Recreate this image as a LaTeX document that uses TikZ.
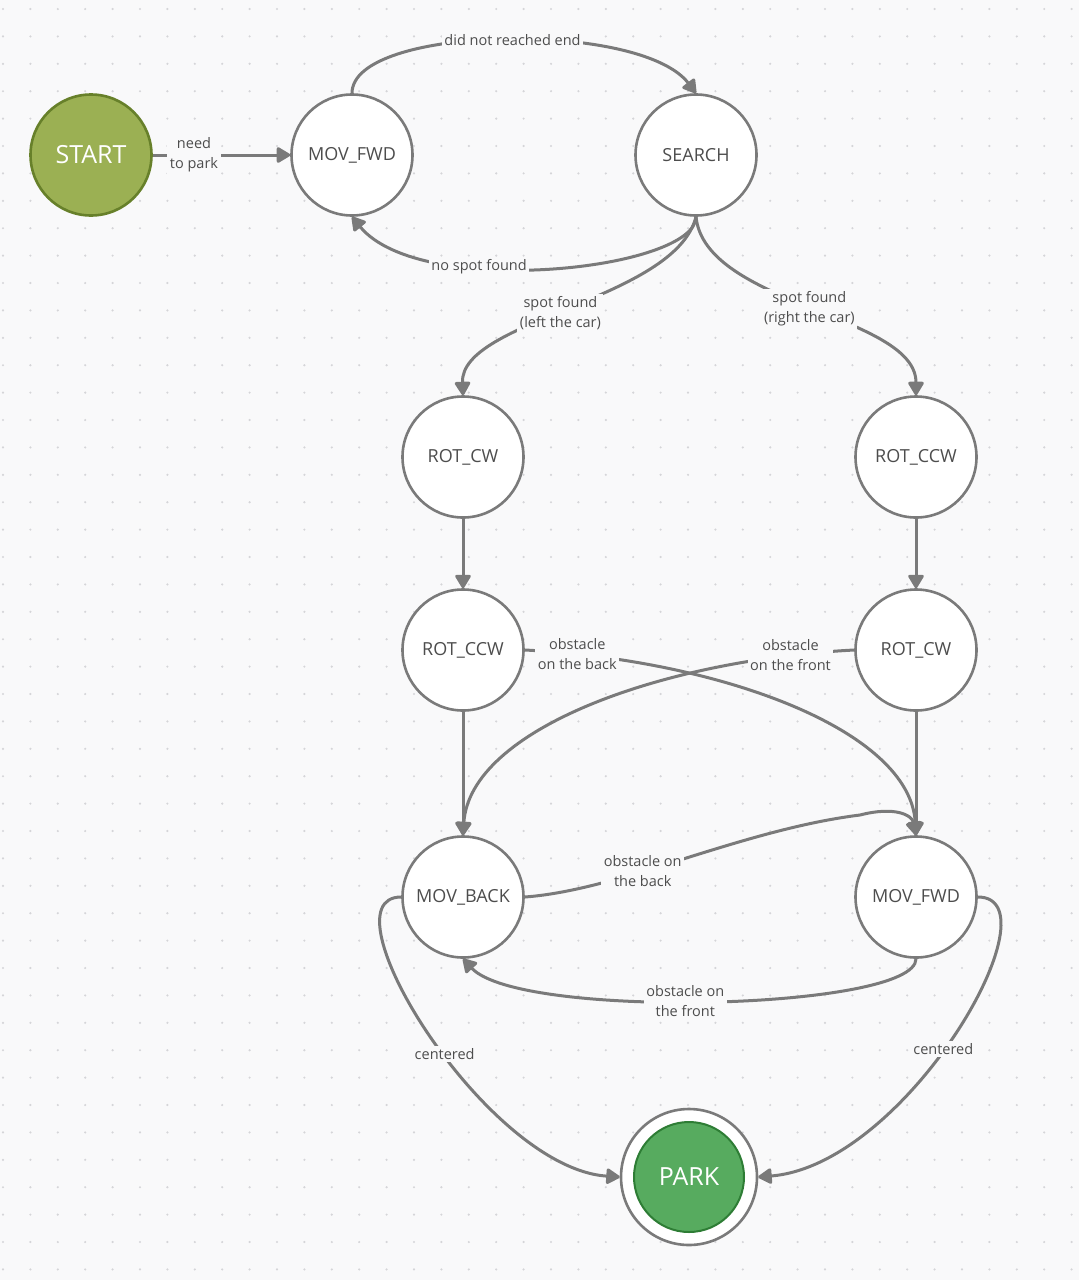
\documentclass[tikz,border=0pt]{standalone}
\usepackage{fontspec}
\setmainfont{Open Sans}
\usetikzlibrary{arrows.meta}

\definecolor{bgGray}{HTML}{F9F9FA}
\definecolor{dotGray}{HTML}{D5D5D8}
\definecolor{lineGray}{HTML}{7A7A7A}
\definecolor{textGray}{HTML}{4D4D4D}
\definecolor{startGreen}{HTML}{9BB053}
\definecolor{startEdge}{HTML}{67802A}
\definecolor{parkGreen}{HTML}{57AB5F}
\definecolor{parkEdge}{HTML}{2E7D35}

\tikzset{
  stateNode/.style = {circle, draw=lineGray, line width=2.6pt, fill=white,
    minimum size=121pt, inner sep=0pt, text=textGray,
    font=\fontsize{18}{20}\selectfont},
  startNode/.style = {stateNode, draw=startEdge, fill=startGreen, text=white,
    font=\fontsize{25}{28}\selectfont},
  ringNode/.style = {circle, draw=lineGray, line width=2.6pt, fill=white,
    minimum size=136pt, inner sep=0pt},
  parkNode/.style = {circle, draw=parkEdge, line width=2pt, fill=parkGreen,
    minimum size=110pt, inner sep=0pt, text=white,
    font=\fontsize{25}{28}\selectfont},
  trans/.style = {draw=lineGray, line width=3pt,
    -{Triangle[length=15pt, width=17pt, round]}},
  lbl/.style = {fill=bgGray, inner sep=2.5pt, align=center, text=textGray,
    font=\fontsize{14.5}{20}\selectfont}
}

\begin{document}
\begin{tikzpicture}[x=1pt, y=-1pt]
    % page and dotted grid
    \useasboundingbox (0,0) rectangle (1079,1280);
    \fill[bgGray] (0,0) rectangle (1079,1280);
    \foreach \i in {0,...,39}
      \foreach \j in {0,...,46}
        \fill[dotGray] (3+27.4*\i, 9+27.4*\j) circle (1.2pt);

    % states
    \node[startNode] (start) at (91,155) {START};
    \node[stateNode] (movF) at (352,155) {MOV\_FWD};
    \node[stateNode] (search) at (696,155) {SEARCH};
    \node[stateNode] (rotCWa) at (463,457) {ROT\_CW};
    \node[stateNode] (rotCCWb) at (916,457) {ROT\_CCW};
    \node[stateNode] (rotCCWa) at (463,650) {ROT\_CCW};
    \node[stateNode] (rotCWb) at (916,650) {ROT\_CW};
    \node[stateNode] (movB) at (463,897) {MOV\_BACK};
    \node[stateNode] (movFb) at (916,897) {MOV\_FWD};
    \node[ringNode] (park) at (689,1177) {};
    \node[parkNode] (parkIn) at (park.center) {PARK};

    % transitions
    \draw[trans] (start) -- node[lbl, pos=0.3] {need\\to park} (movF);
    \draw[trans] (movF.north) .. controls (352,25) and (640,20) ..
       node[lbl, pos=0.52] {did not reached end} (search.north);
    \draw[trans] (search.south) .. controls (696,270) and (420,300) ..
       node[lbl, pos=0.65] {no spot found} (movF.south);
    \draw[trans] (search.south) .. controls (675,300) and (460,320) ..
       node[lbl, pos=0.53] {spot found\\(left the car)} (rotCWa.north);
    \draw[trans] (search.south) .. controls (705,305) and (916,315) ..
       node[lbl, pos=0.5] {spot found\\(right the car)} (rotCCWb.north);

    \draw[trans] (rotCWa) -- (rotCCWa);
    \draw[trans] (rotCCWb) -- (rotCWb);
    \draw[trans] (rotCCWa) -- (movB);
    \draw[trans] (rotCWb) -- (movFb);

    \draw[trans] (rotCCWa.east) .. controls (720,660) and (910,730) ..
       node[lbl, pos=0.09] {obstacle\\on the back} (movFb.north);
    \draw[trans] (rotCWb.west) .. controls (660,660) and (470,730) ..
       node[lbl, pos=0.11] {obstacle\\on the front} (movB.north);

    \draw[trans] (movB.east) .. controls (620,890) and (740,830) .. (860,815)
       node[lbl, pos=0.38] {obstacle on\\the back}
       .. controls (895,806) and (912,815) .. (movFb.north);
    \draw[trans] (movFb.south) .. controls (916,1010) and (520,1020) ..
       node[lbl, pos=0.54] {obstacle on\\the front} (movB.south);

    \draw[trans] (movB.west) .. controls (320,897) and (485,1168) ..
       node[lbl, pos=0.55] {centered} (park.west);
    \draw[trans] (movFb.east) .. controls (1060,897) and (908,1165) ..
       node[lbl, pos=0.54] {centered} (park.east);
\end{tikzpicture}
\end{document}
